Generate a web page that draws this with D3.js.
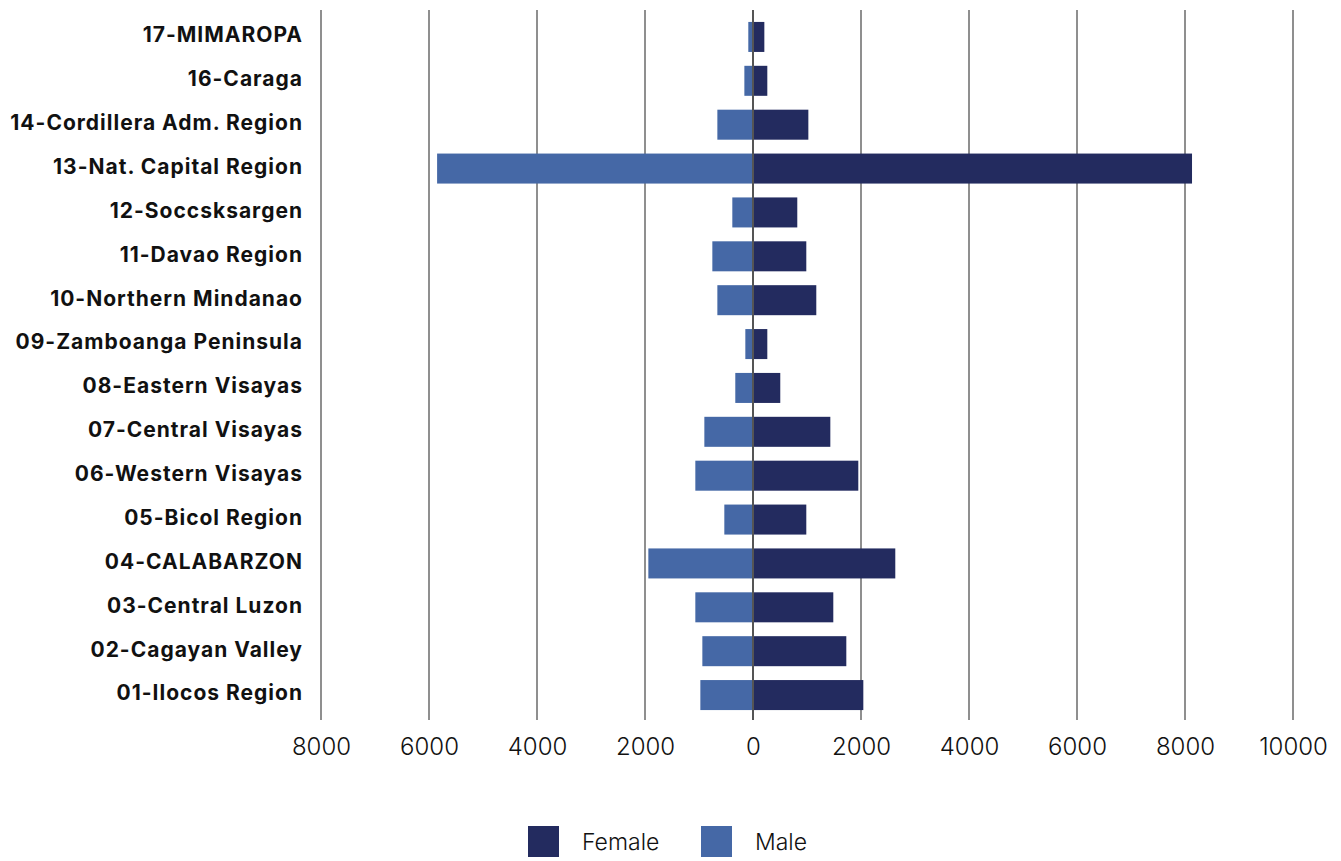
<!DOCTYPE html>
<html>
<head>
<meta charset="utf-8">
<script src="https://cdn.jsdelivr.net/npm/d3@7"></script>
<style>
  html, body { margin: 0; padding: 0; background: #ffffff; }
  svg { display: block; }
</style>
</head>
<body>
<svg id="chart" width="1341" height="861"></svg>
<script>
// ---- data ----
const regions = [
  "17-MIMAROPA", "16-Caraga", "14-Cordillera Adm. Region", "13-Nat. Capital Region",
  "12-Soccsksargen", "11-Davao Region", "10-Northern Mindanao", "09-Zamboanga Peninsula",
  "08-Eastern Visayas", "07-Central Visayas", "06-Western Visayas", "05-Bicol Region",
  "04-CALABARZON", "03-Central Luzon", "02-Cagayan Valley", "01-Ilocos Region"
];
const female = [210, 265, 1025, 8130, 820, 987, 1172, 265, 505, 1432, 1950, 987, 2635, 1487, 1728, 2043];
const male   = [87, 160, 660, 5850, 383, 753, 660, 142, 328, 901, 1068, 531, 1938, 1068, 938, 975];
const tickValues = [-8000, -6000, -4000, -2000, 0, 2000, 4000, 6000, 8000, 10000];
const seriesNames = ["Female", "Male"];
const seriesColors = ["#232B5F", "#4568A6"];

// ---- layout ----
const svg = d3.select("#chart");
const x = d3.scaleLinear().domain([-8000, 10000]).range([321, 1293]);
const y = d3.scaleBand().domain(regions).range([15, 717]).paddingInner(0.316).paddingOuter(0.158);
const gridTop = 10, gridBottom = 720;

// gridlines
svg.append("g").selectAll("line").data(tickValues.filter(d => d !== 0)).join("line")
  .attr("x1", d => x(d)).attr("x2", d => x(d))
  .attr("y1", gridTop).attr("y2", gridBottom)
  .attr("stroke", "#8f8f8f").attr("stroke-width", 2);

const rows = regions.map((r, i) => ({ region: r, female: female[i], male: male[i] }));

// bars
svg.append("g").selectAll("rect").data(rows).join("rect")
  .attr("x", d => x(-d.male)).attr("width", d => x(0) - x(-d.male))
  .attr("y", d => y(d.region)).attr("height", y.bandwidth())
  .attr("fill", seriesColors[1]);
svg.append("g").selectAll("rect").data(rows).join("rect")
  .attr("x", x(0)).attr("width", d => x(d.female) - x(0))
  .attr("y", d => y(d.region)).attr("height", y.bandwidth())
  .attr("fill", seriesColors[0]);

// zero line
svg.append("line")
  .attr("x1", x(0)).attr("x2", x(0)).attr("y1", gridTop).attr("y2", gridBottom)
  .attr("stroke", "#555555").attr("stroke-width", 2);

// category labels
svg.append("g").selectAll("text").data(regions).join("text")
  .attr("x", 303).attr("y", d => y(d) + y.bandwidth() / 2 - 2)
  .attr("dy", "0.35em").attr("text-anchor", "end")
  .attr("font-family", "Inter, 'Open Sans', sans-serif").attr("font-weight", 700)
  .attr("font-size", 21).attr("letter-spacing", "1px").attr("fill", "#111111")
  .text(d => d);

// x axis labels
const xAxis = d3.axisBottom(x).tickValues(tickValues).tickSize(0)
  .tickFormat(d => String(Math.abs(d)));
const ax = svg.append("g").attr("transform", "translate(0,738)").call(xAxis);
ax.select(".domain").remove();
ax.selectAll("text")
  .attr("font-family", "Inter, 'Open Sans', sans-serif").attr("font-size", 24)
  .attr("font-weight", 300).attr("fill", "#111111").attr("dy", "0.72em").attr("y", 0);

// legend
const legendX = [528, 701];
const lg = svg.append("g").selectAll("g").data(seriesNames).join("g")
  .attr("transform", (d, i) => `translate(${legendX[i]},826)`);
lg.append("rect").attr("width", 31).attr("height", 31).attr("fill", (d, i) => seriesColors[i]);
lg.append("text").attr("x", 54).attr("y", 15.5).attr("dy", "0.35em")
  .attr("font-family", "Inter, 'Open Sans', sans-serif").attr("font-size", 23)
  .attr("font-weight", 300).attr("fill", "#111111").text(d => d);
</script>
</body>
</html>
